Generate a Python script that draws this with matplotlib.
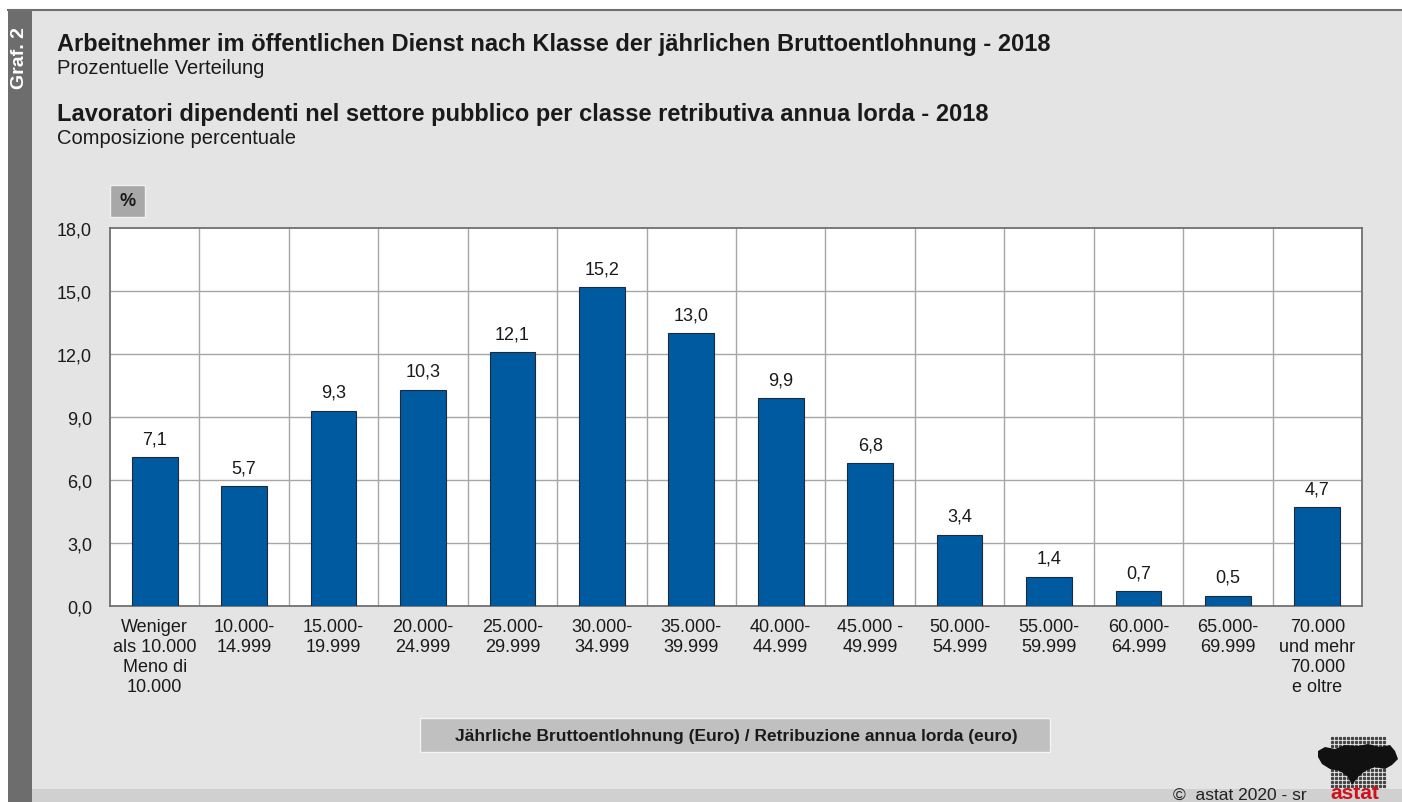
"""
Arbeitnehmer im oeffentlichen Dienst nach Klasse der Bruttoentlohnung - 2018
Bar chart in astat style.
"""

import matplotlib
matplotlib.use("Agg")
import matplotlib.pyplot as plt
import matplotlib.patches as patches
import numpy as np

plt.rcParams['font.family'] = ['Liberation Sans', 'DejaVu Sans']

# DATA
categories = ["Weniger\nals 10.000\nMeno di\n10.000", "10.000-\n14.999", "15.000-\n19.999",
              "20.000-\n24.999", "25.000-\n29.999", "30.000-\n34.999", "35.000-\n39.999",
              "40.000-\n44.999", "45.000 -\n49.999", "50.000-\n54.999", "55.000-\n59.999",
              "60.000-\n64.999", "65.000-\n69.999", "70.000\nund mehr\n70.000\ne oltre"]
values = [7.1, 5.7, 9.3, 10.3, 12.1, 15.2, 13.0, 9.9, 6.8, 3.4, 1.4, 0.7, 0.5, 4.7]
y_ticks = [0, 3, 6, 9, 12, 15, 18]

W, H = 1402, 803
BG = "#e4e4e4"
BAR = "#005a9f"
TXT = "#1a1a1a"


def fx(px):
    return px / W


def fy(py):
    # pixel from top -> figure fraction from bottom
    return 1 - py / H


fig = plt.figure(figsize=(W / 100, H / 100), dpi=100)
fig.patch.set_facecolor("white")

# background panels
fig.add_artist(patches.Rectangle((fx(8), 0), fx(W - 8), fy(11), transform=fig.transFigure,
                                 facecolor=BG, edgecolor="none", zorder=0))
fig.add_artist(patches.Rectangle((fx(8), 0), fx(24), fy(11), transform=fig.transFigure,
                                 facecolor="#6d6d6d", edgecolor="none", zorder=1))
fig.add_artist(plt.Line2D([fx(8), 1], [fy(11), fy(11)], transform=fig.transFigure,
                          color="#707070", lw=1.5, zorder=2))
fig.add_artist(patches.Rectangle((fx(32), 0), fx(W - 32), 13 / H, transform=fig.transFigure,
                                 facecolor="#d0d0d0", edgecolor="none", zorder=1))

fig.text(fx(20), fy(27), "Graf. 2", rotation=90, color="white", fontsize=14,
         fontweight="bold", ha="center", va="top")

# titles
fig.text(fx(57), fy(45), "Arbeitnehmer im öffentlichen Dienst nach Klasse der jährlichen Bruttoentlohnung - 2018",
         fontsize=17, fontweight="bold", color=TXT, va="center")
fig.text(fx(57), fy(69), "Prozentuelle Verteilung", fontsize=14.5, color=TXT, va="center")
fig.text(fx(57), fy(115), "Lavoratori dipendenti nel settore pubblico per classe retributiva annua lorda - 2018",
         fontsize=17, fontweight="bold", color=TXT, va="center")
fig.text(fx(57), fy(138), "Composizione percentuale", fontsize=14.5, color=TXT, va="center")

# % box
fig.add_artist(patches.Rectangle((fx(110), fy(218)), fx(35), 32 / H, transform=fig.transFigure,
                                 facecolor="#a8a8a8", edgecolor="#f0f0f0", lw=1, zorder=2))
fig.text(fx(128), fy(202), "%", fontsize=13, fontweight="bold", color=TXT,
         ha="center", va="center", zorder=3)

# main axes
ax = fig.add_axes([fx(110), fy(607), fx(1252), (607 - 229) / H])
x = np.arange(len(categories))
ax.bar(x, values, width=0.51, color=BAR, edgecolor="#1e2a3a", linewidth=0.8, zorder=3)
for xi, v in zip(x, values):
    ax.annotate(f"{v:.1f}".replace(".", ","), (xi, v), xytext=(0, 7), textcoords="offset points",
                ha="center", va="bottom", fontsize=13, color=TXT)

ax.set_xlim(-0.5, len(categories) - 0.5)
ax.set_ylim(0, 18)
ax.set_facecolor("white")
ax.set_yticks(y_ticks)
ax.set_yticklabels([f"{t:.1f}".replace(".", ",") for t in y_ticks], fontsize=13, color=TXT)
ax.set_xticks(x)
ax.set_xticklabels(categories, fontsize=13, color=TXT, linespacing=1.22)
ax.tick_params(axis="both", length=0)
ax.tick_params(axis="y", pad=13)
ax.tick_params(axis="x", pad=9)

for t in y_ticks[1:-1]:
    ax.axhline(t, color="#a6a6a6", lw=1, zorder=1)
for b in np.arange(0.5, len(categories) - 1, 1):
    ax.axvline(b, color="#a6a6a6", lw=1, zorder=1)
for s in ax.spines.values():
    s.set_color("#707070")
    s.set_linewidth(1.3)

# x axis label box
fig.add_artist(patches.Rectangle((fx(420), fy(753)), fx(630), 34 / H, transform=fig.transFigure,
                                 facecolor="#c0c0c0", edgecolor="#f4f4f4", lw=1, zorder=2))
fig.text(fx(736), fy(737), "Jährliche Bruttoentlohnung (Euro) / Retribuzione annua lorda (euro)",
         fontsize=12.5, fontweight="bold", color=TXT, ha="center", va="center", zorder=3)

# footer
fig.text(fx(1173), fy(803), "©  astat 2020 - sr", fontsize=12.5, color="#222222", va="bottom")
fig.text(fx(1330), fy(803), "astat", fontsize=15, fontweight="bold", color="#d0101a", va="bottom")

# logo: dot grid with silhouette
gx, gy = np.meshgrid(np.arange(1332, 1386, 4), np.arange(739, 790, 4))
fig.add_artist(plt.Line2D(fx(gx.ravel()), fy(gy.ravel()), transform=fig.transFigure, ls="none",
                          marker="s", ms=1.3, color="#444444", zorder=3))
shape_px = [(1318, 752), (1325, 748), (1335, 750), (1345, 746), (1358, 747), (1368, 745),
            (1380, 748), (1390, 746), (1395, 752), (1398, 760), (1392, 766), (1385, 770),
            (1375, 768), (1365, 772), (1358, 778), (1352, 786), (1348, 778), (1340, 772),
            (1330, 770), (1322, 765), (1318, 758)]
fig.add_artist(patches.Polygon([(fx(a), fy(b)) for a, b in shape_px], closed=True,
                               transform=fig.transFigure, facecolor="#111111",
                               edgecolor="none", zorder=3))

fig.savefig("out.png", dpi=100, facecolor=fig.get_facecolor())
